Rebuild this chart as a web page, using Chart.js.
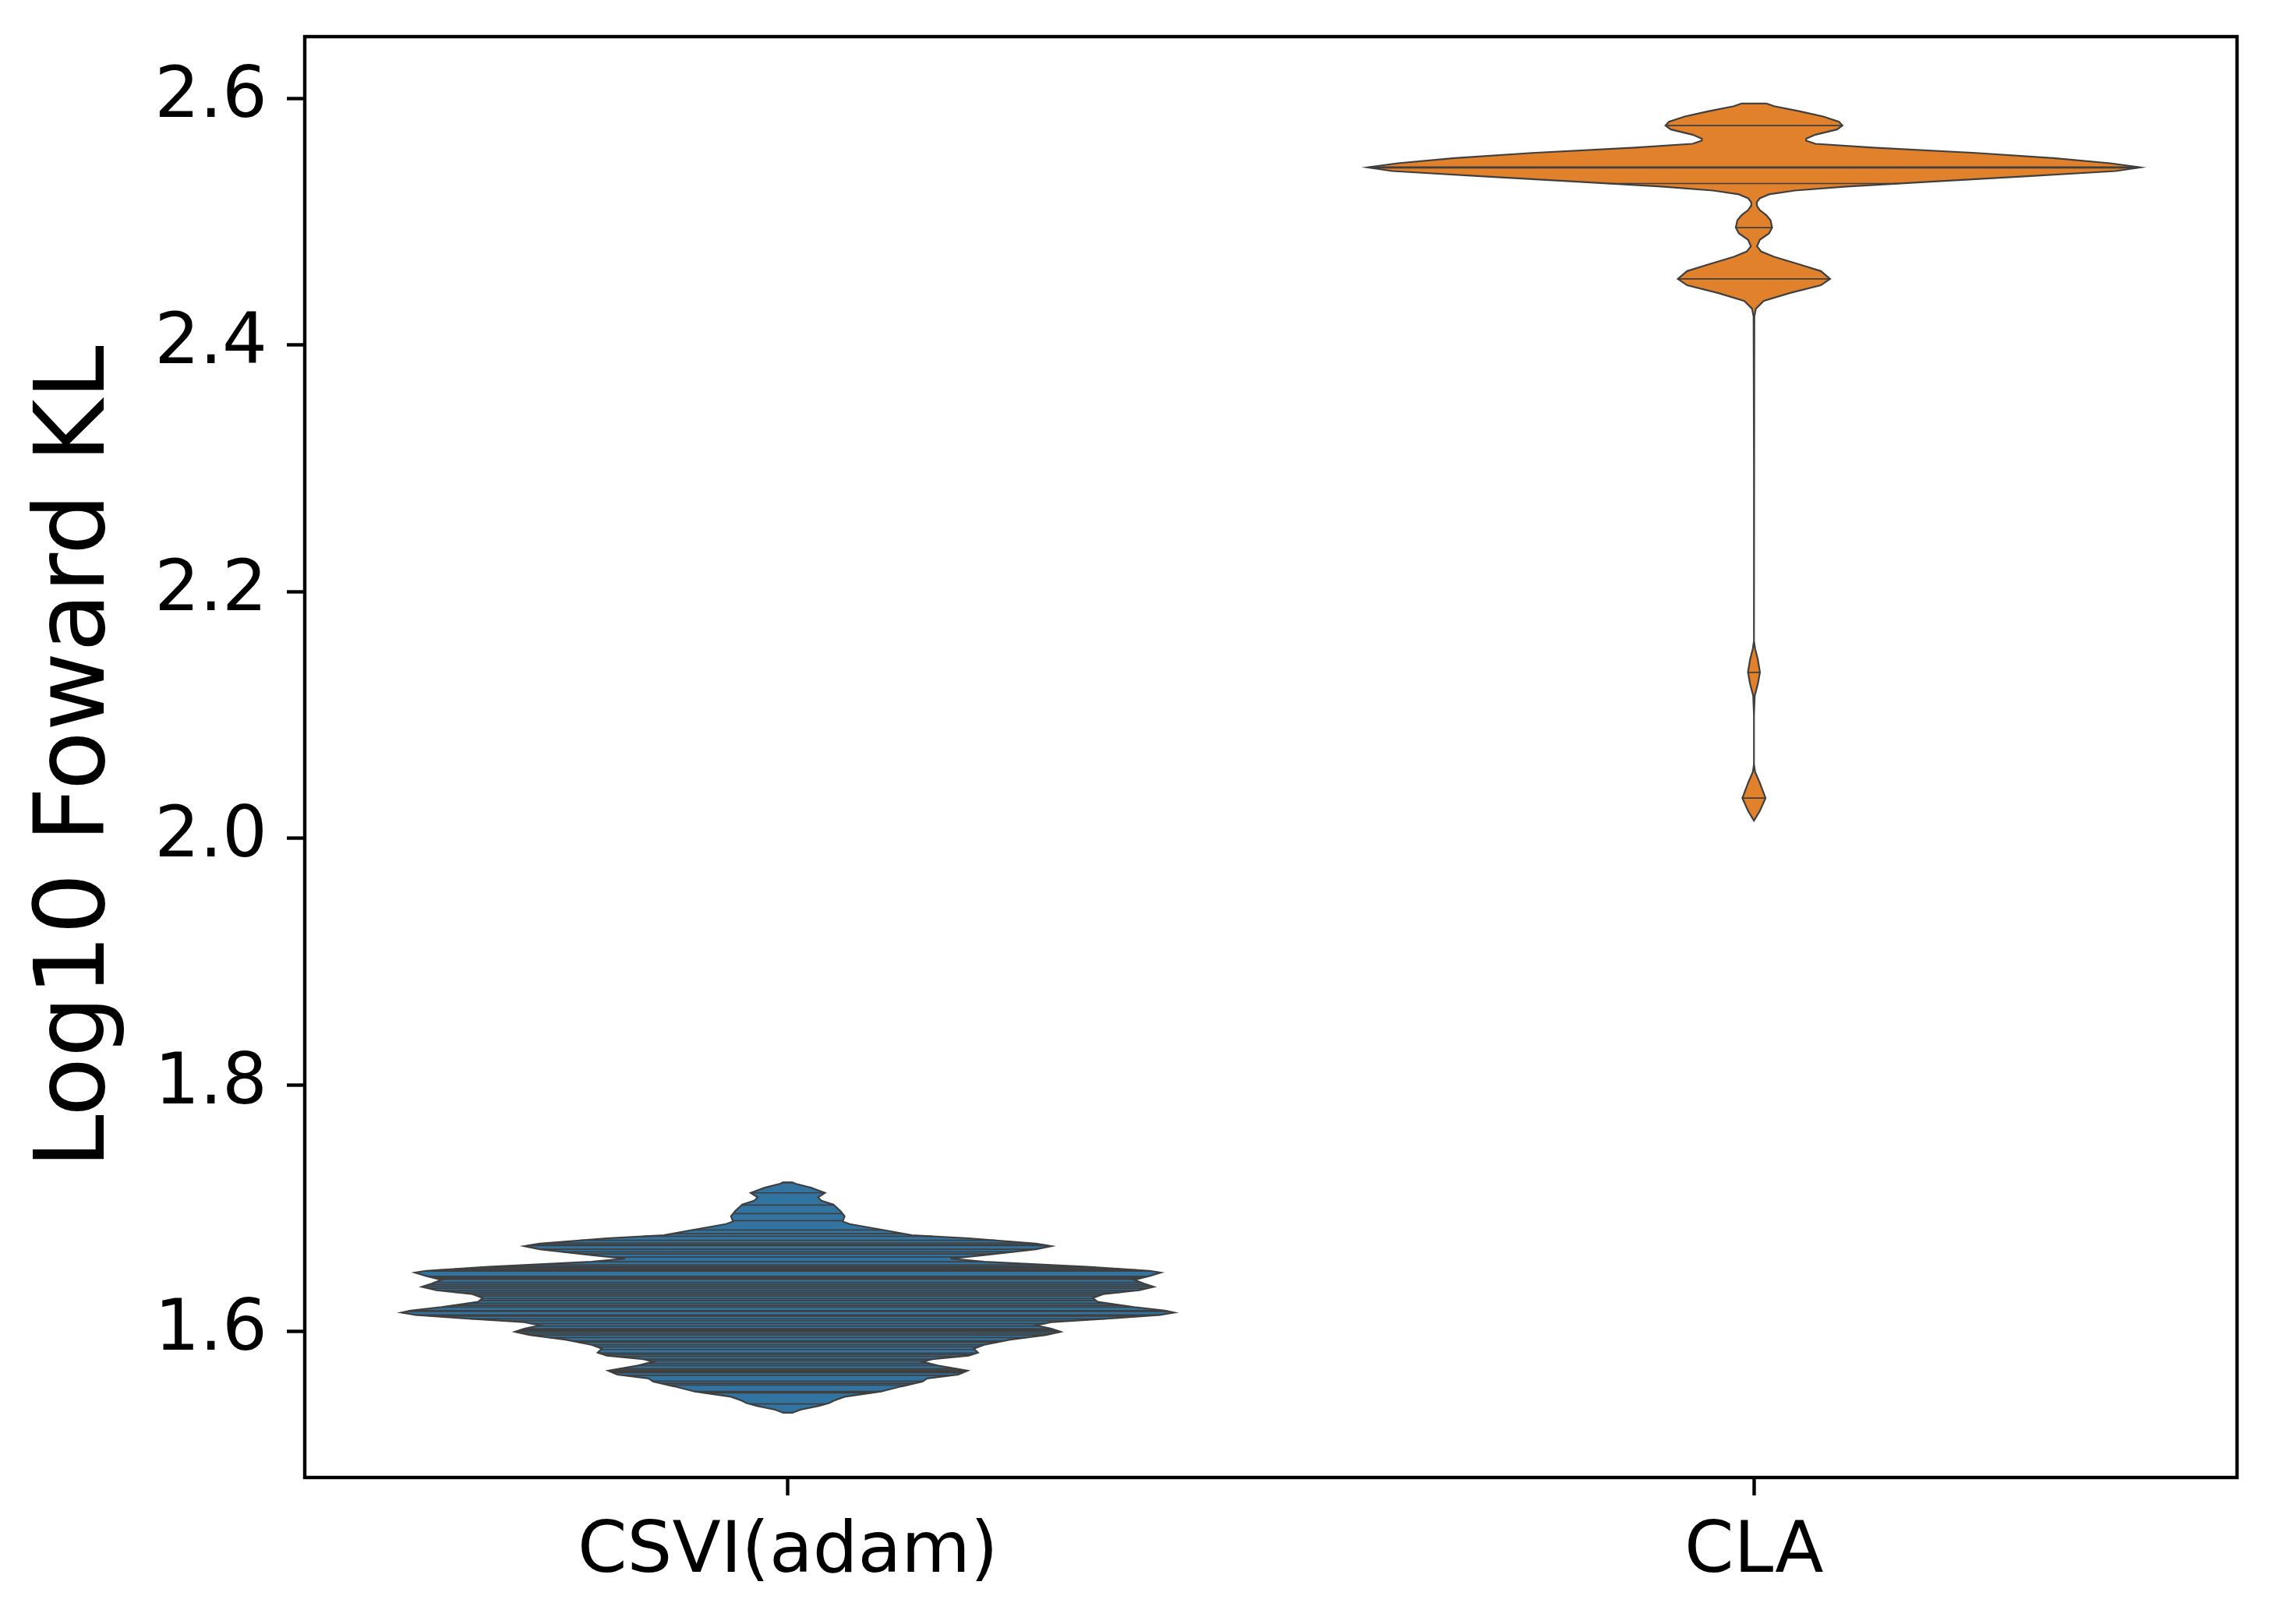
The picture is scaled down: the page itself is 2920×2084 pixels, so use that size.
<!DOCTYPE html>
<html lang="en">
<head>
<meta charset="UTF-8">
<title>Log10 Foward KL</title>
<script src="https://cdn.jsdelivr.net/npm/chart.js"></script>
<style>
  html, body { margin: 0; padding: 0; background: #fff; }
  #wrap { width: 2920px; height: 2084px; }
</style>
</head>
<body>
<div id="wrap"><canvas id="violinChart"></canvas></div>
<script>
// x categories and y tick labels
const categories = ['CSVI(adam)', 'CLA'];
const yTicks = [1.6, 1.8, 2.0, 2.2, 2.4, 2.6];

// violin outlines: y levels (top to bottom) and relative half width (1 = widest)
const csviLevels = [1.7208, 1.7198, 1.7166, 1.7124, 1.7088, 1.7061, 1.7029, 1.6977, 1.6934, 1.6892,
  1.6871, 1.6819, 1.6781, 1.6756, 1.6713, 1.6692, 1.6667, 1.6619, 1.6591, 1.6566,
  1.6524, 1.6492, 1.6478, 1.6450, 1.6419, 1.6387, 1.6362, 1.6334, 1.6303, 1.6271,
  1.6240, 1.6197, 1.6170, 1.6153, 1.6134, 1.6107, 1.6075, 1.6050, 1.6023, 1.5998,
  1.5972, 1.5934, 1.5892, 1.5861, 1.5829, 1.5804, 1.5776, 1.5755, 1.5724, 1.5682,
  1.5650, 1.5619, 1.5593, 1.5555, 1.5513, 1.5471, 1.5440, 1.5419, 1.5397, 1.5366, 1.5341];
const csviWidths = [0.013, 0.020, 0.060, 0.096, 0.078, 0.087, 0.118, 0.136, 0.147, 0.142,
  0.160, 0.254, 0.321, 0.468, 0.642, 0.682, 0.642, 0.508, 0.421, 0.508,
  0.775, 0.936, 0.965, 0.936, 0.896, 0.922, 0.947, 0.909, 0.816, 0.789,
  0.802, 0.896, 0.976, 1.000, 0.963, 0.842, 0.682, 0.642, 0.682, 0.706,
  0.668, 0.575, 0.508, 0.481, 0.492, 0.468, 0.374, 0.348, 0.388, 0.465,
  0.441, 0.361, 0.348, 0.294, 0.241, 0.147, 0.120, 0.107, 0.080, 0.033, 0.012];

const claLevels = [2.5958, 2.5936, 2.5894, 2.5852, 2.5810, 2.5779, 2.5747, 2.5705, 2.5673, 2.5656,
  2.5631, 2.5600, 2.5557, 2.5515, 2.5473, 2.5440, 2.5410, 2.5368, 2.5326, 2.5284,
  2.5252, 2.5221, 2.5189, 2.5157, 2.5126, 2.5094, 2.5052, 2.5010, 2.4951, 2.4905,
  2.4852, 2.4799, 2.4757, 2.4715, 2.4652, 2.4599, 2.4536, 2.4484, 2.4420, 2.4357,
  2.4294, 2.4231, 2.3000, 2.1600, 2.1537, 2.1450, 2.1345, 2.1250, 2.1156, 2.1000,
  2.0600, 2.0536, 2.0450, 2.0325, 2.0220, 2.0142];
const claWidths = [0.032, 0.052, 0.119, 0.179, 0.220, 0.229, 0.215, 0.159, 0.135, 0.135,
  0.159, 0.307, 0.574, 0.775, 0.922, 1.000, 0.936, 0.708, 0.467, 0.240,
  0.106, 0.039, 0.015, 0.007, 0.008, 0.015, 0.032, 0.043, 0.047, 0.039,
  0.015, 0.008, 0.019, 0.052, 0.119, 0.173, 0.197, 0.173, 0.092, 0.025,
  0.005, 0.001, 0.000, 0.000, 0.003, 0.010, 0.0155, 0.010, 0.002, 0.000,
  0.000, 0.003, 0.015, 0.030, 0.015, 0.000];

// individual observations drawn as sticks
const csviSticks = [1.7208, 1.7124, 1.7025, 1.6956, 1.6899, 1.6823, 1.6793, 1.6772, 1.6739, 1.6718,
  1.6705, 1.6701, 1.6697, 1.6667, 1.6646, 1.6629, 1.6604, 1.6566, 1.6541, 1.6528,
  1.6520, 1.6507, 1.6499, 1.6490, 1.6448, 1.6444, 1.6440, 1.6436, 1.6431, 1.6423,
  1.6398, 1.6381, 1.6366, 1.6351, 1.6334, 1.6318, 1.6303, 1.6288, 1.6267, 1.6250,
  1.6229, 1.6212, 1.6198, 1.6170, 1.6166, 1.6162, 1.6134, 1.6129, 1.6124, 1.6103,
  1.6086, 1.6065, 1.6044, 1.6023, 1.6017, 1.6012, 1.6007, 1.6002, 1.5987, 1.5972,
  1.5951, 1.5924, 1.5918, 1.5913, 1.5892, 1.5875, 1.5854, 1.5825, 1.5812, 1.5797,
  1.5776, 1.5762, 1.5741, 1.5724, 1.5698, 1.5686, 1.5675, 1.5665, 1.5644, 1.5597,
  1.5580, 1.5566, 1.5513, 1.5502, 1.5412, 1.5341];
const claSticks = [2.5958, 2.5779, 2.5442, 2.5440, 2.5438, 2.5436, 2.5309, 2.4951, 2.4536, 2.1345, 2.0325];

const halfMax = 0.4;

function widthAt(levels, widths, v) {
  for (let i = 0; i < levels.length - 1; i++) {
    if (v <= levels[i] && v >= levels[i + 1]) {
      const t = (levels[i] - v) / (levels[i] - levels[i + 1]);
      return widths[i] + t * (widths[i + 1] - widths[i]);
    }
  }
  return 0;
}

function outline(pos, levels, widths) {
  const pts = [];
  levels.forEach((v, i) => pts.push({ x: pos + halfMax * widths[i], y: v }));
  for (let i = levels.length - 1; i >= 0; i--) pts.push({ x: pos - halfMax * widths[i], y: levels[i] });
  pts.push(pts[0]);
  return pts;
}

function sticks(pos, levels, widths, obs) {
  const pts = [];
  obs.forEach(v => {
    const w = halfMax * widthAt(levels, widths, v);
    pts.push({ x: pos - w, y: v }, { x: pos + w, y: v }, { x: pos, y: null });
  });
  return pts;
}

const gray = '#3f3f3f';
const font = 'DejaVu Sans';

// box around the plot area
const frame = {
  id: 'frame',
  afterDatasetsDraw(chart) {
    const { ctx, chartArea: a } = chart;
    ctx.save();
    ctx.strokeStyle = '#000';
    ctx.lineWidth = 4.4;
    ctx.strokeRect(a.left, a.top, a.right - a.left, a.bottom - a.top);
    ctx.restore();
  }
};

const ctx = document.getElementById('violinChart').getContext('2d');
new Chart(ctx, {
  type: 'line',
  data: {
    datasets: [
      { label: categories[0], data: outline(0, csviLevels, csviWidths), backgroundColor: '#3274a1',
        borderColor: gray, borderWidth: 2.2, fill: 'shape', pointRadius: 0, tension: 0, order: 2 },
      { label: categories[0] + ' obs', data: sticks(0, csviLevels, csviWidths, csviSticks),
        borderColor: gray, borderWidth: 1.7, fill: false, pointRadius: 0, spanGaps: false, order: 1 },
      { label: categories[1], data: outline(1, claLevels, claWidths), backgroundColor: '#e1812c',
        borderColor: gray, borderWidth: 2.2, fill: 'shape', pointRadius: 0, tension: 0, order: 2 },
      { label: categories[1] + ' obs', data: sticks(1, claLevels, claWidths, claSticks),
        borderColor: gray, borderWidth: 1.7, fill: false, pointRadius: 0, spanGaps: false, order: 1 }
    ]
  },
  options: {
    responsive: true,
    maintainAspectRatio: false,
    devicePixelRatio: 1,
    animation: false,
    events: [],
    layout: { padding: { top: 47, right: 50, bottom: 0, left: 0 } },
    plugins: { legend: { display: false }, tooltip: { enabled: false } },
    scales: {
      x: {
        type: 'linear', min: -0.5, max: 1.5,
        afterBuildTicks: s => { s.ticks = categories.map((c, i) => ({ value: i })); },
        afterFit: s => { s.height = 188; s.paddingLeft = 0; s.paddingRight = 0; },
        ticks: { callback: v => categories[v], font: { family: font, size: 91 }, color: '#000', padding: 20, maxRotation: 0 },
        grid: { drawOnChartArea: false, drawTicks: true, tickLength: 23, tickWidth: 4.4, tickColor: '#000' },
        border: { display: false }
      },
      y: {
        type: 'linear', min: 1.4816, max: 2.65,
        afterBuildTicks: s => { s.ticks = yTicks.map(v => ({ value: v })); },
        afterFit: s => { s.width = 391; s.paddingTop = 0; s.paddingBottom = 0; },
        ticks: { callback: v => v.toFixed(1), font: { family: font, size: 91 }, color: '#000', padding: 25 },
        grid: { drawOnChartArea: false, drawTicks: true, tickLength: 23, tickWidth: 4.4, tickColor: '#000' },
        border: { display: false },
        title: { display: true, text: 'Log10 Foward KL', color: '#000', font: { family: font, size: 124 }, padding: { top: 26, bottom: 0 } }
      }
    }
  },
  plugins: [frame]
});
</script>
</body>
</html>
